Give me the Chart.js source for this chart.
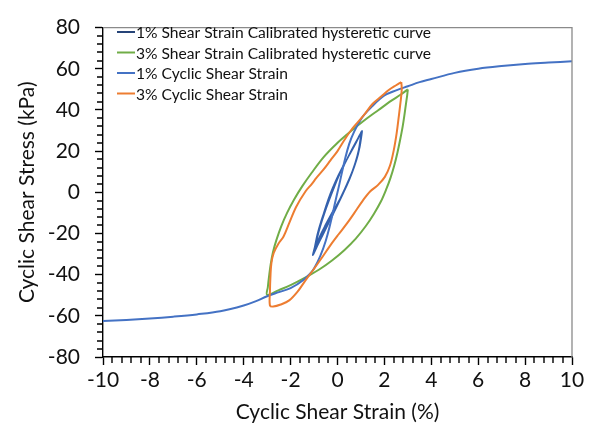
<!DOCTYPE html>
<html>
<head>
<meta charset="utf-8">
<script src="https://cdn.jsdelivr.net/npm/chart.js@4.4.1/dist/chart.umd.min.js"></script>
<style>
  html, body { margin: 0; padding: 0; background: #fff; }
  #wrap { width: 594px; height: 432px; }
</style>
</head>
<body>
<div id="wrap"><canvas id="c" width="594" height="432"></canvas></div>
<script>
// Series labels (legend order)
const seriesLabels = [
  '1% Shear Strain Calibrated hysteretic curve',
  '3% Shear Strain Calibrated hysteretic curve',
  '1% Cyclic Shear Strain',
  '3% Cyclic Shear Strain'
];

// 1% calibrated hysteretic loops (several cycles)
const loop1Strain = [
  -1.00, -0.92, -0.80, -0.66, -0.50, -0.30, -0.08, 0.18, 0.45, 0.72, 0.96, 1.02,
  1.03, 0.98, 0.88, 0.72, 0.52, 0.28, 0.02, -0.26, -0.52, -0.74, -0.90, -0.96,
  -0.86, -0.72, -0.55, -0.36, -0.14, 0.10, 0.36, 0.62, 0.86, 0.99,
  0.97, 0.90, 0.76, 0.58, 0.36, 0.12, -0.14, -0.40, -0.64, -0.86, -1.05,
  -0.97, -0.86, -0.70, -0.50, -0.28, -0.04, 0.22, 0.50, 0.78, 1.00, 1.05,
  1.02, 0.95, 0.82, 0.64, 0.42, 0.18, -0.08, -0.35, -0.60, -0.82, -1.02
];
const loop1Stress = [
  -29.5, -25.0, -19.0, -13.0, -7.0, -0.5, 5.5, 11.5, 17.0, 22.5, 28.0, 29.5,
  28.0, 24.0, 18.5, 12.5, 6.5, 0.5, -5.0, -10.5, -16.0, -21.0, -25.5, -28.5,
  -22.0, -16.0, -10.0, -4.0, 2.5, 9.0, 15.0, 21.0, 26.0, 28.5,
  25.5, 20.5, 14.5, 8.5, 2.5, -3.5, -9.5, -15.5, -21.0, -26.0, -30.5,
  -26.5, -20.5, -14.0, -7.5, -1.0, 5.5, 12.0, 18.0, 24.0, 29.0, 29.8,
  27.0, 22.0, 16.5, 10.5, 4.5, -1.5, -7.5, -13.5, -19.5, -24.5, -29.0
];

// 3% calibrated hysteretic loop
const loop3Strain = [
  3.00, 2.97, 2.92, 2.86, 2.78, 2.68, 2.56, 2.42, 2.26, 2.08, 1.85, 1.55, 1.20, 0.78, 0.30, -0.22,
  -0.78, -1.38, -1.98, -2.50, -3.00,
  -2.97, -2.92, -2.85, -2.75, -2.60, -2.40, -2.15, -1.85, -1.50, -1.10, -0.60, -0.05, 0.55, 1.15,
  1.75, 2.30, 2.70, 3.00
];
const loop3Stress = [
  50.0, 47.0, 43.0, 38.0, 32.0, 26.0, 19.5, 13.0, 7.0, 1.5, -4.5, -10.5, -16.5, -22.5, -28.0, -33.0,
  -37.5, -41.5, -45.0, -47.5, -49.8,
  -46.0, -41.0, -35.0, -29.0, -23.0, -16.5, -10.0, -3.5, 3.0, 9.5, 17.0, 23.5, 29.5, 35.0,
  40.0, 44.5, 47.5, 50.0
];

// Backbone curve (1% cyclic shear strain)
const backboneStrain = [-10, -9, -8, -7, -6, -5, -4, -3.5, -3, -2.5, -2, -1.5, -1, -0.5, 0,
  0.5, 1, 1.5, 2, 2.5, 3, 3.5, 4, 5, 6, 7, 8, 9, 10];
const backboneStress = [-62.5, -62.0, -61.3, -60.4, -59.3, -57.8, -55.0, -53.0, -50.5, -48.5, -46.5, -43.0, -37.0, -23.5, 0,
  23.5, 35.5, 42.0, 47.0, 49.5, 51.5, 53.5, 55.0, 58.0, 60.0, 61.3, 62.3, 63.0, 63.7];

// 3% cyclic shear strain (measured loop)
const cyc3Strain = [
  2.72, 2.74, 2.69, 2.61, 2.52, 2.40, 2.24, 2.02, 1.72, 1.40, 1.08, 0.72, 0.38, 0.04, -0.32, -0.68,
  -1.02, -1.38, -1.72, -2.06, -2.42, -2.74, -2.88,
  -2.88, -2.86, -2.82, -2.72, -2.52, -2.30, -2.06, -1.76, -1.36, -1.10, -0.90, -0.60, -0.30, 0.00,
  0.30, 0.60, 0.86, 1.16, 1.50, 1.86, 2.20, 2.50, 2.72
];
const cyc3Stress = [
  53.5, 50.0, 44.0, 36.5, 28.5, 20.5, 13.0, 7.5, 3.5, 0.5, -4.0, -10.0, -15.5, -20.5, -26.0, -32.0,
  -37.5, -43.0, -48.5, -52.5, -54.5, -55.5, -55.0,
  -48.0, -41.0, -34.5, -29.5, -25.0, -21.5, -15.0, -7.0, 0.5, 4.0, 7.0, 11.0, 15.5, 20.0,
  25.5, 30.5, 34.0, 38.0, 43.0, 46.5, 49.8, 52.0, 53.5
];

// Axis ticks
const xTicks = [-10, -8, -6, -4, -2, 0, 2, 4, 6, 8, 10];
const yTicks = [-80, -60, -40, -20, 0, 20, 40, 60, 80];

const pts = (xs, ys) => xs.map((x, i) => ({ x: x, y: ys[i] }));

const FONT = 'Lato, "Open Sans", sans-serif';
const colors = ['#3461AD', '#70AD47', '#4472C4', '#ED7D31'];
const legendColors = ['#264478', '#70AD47', '#4472C4', '#ED7D31'];
const widths = [1.6, 2, 2, 2];

const series = [
  pts(loop1Strain, loop1Stress),
  pts(loop3Strain, loop3Stress),
  pts(backboneStrain, backboneStress),
  pts(cyc3Strain, cyc3Stress)
];

// later series drawn on top
const datasets = series.map((d, i) => ({
  label: seriesLabels[i],
  data: d,
  showLine: true,
  borderColor: colors[i],
  backgroundColor: colors[i],
  borderWidth: widths[i],
  pointRadius: 0,
  tension: 0.35,
  fill: false,
  order: 4 - i
}));

const framePlugin = {
  id: 'frame',
  afterDraw(chart) {
    const ctx = chart.ctx;
    const a = chart.chartArea;
    const xs = chart.scales.x, ys = chart.scales.y;
    ctx.save();
    // grey top/right plot border
    ctx.strokeStyle = '#8a8a8a';
    ctx.lineWidth = 1.3;
    ctx.beginPath();
    ctx.moveTo(a.left, a.top);
    ctx.lineTo(a.right, a.top);
    ctx.lineTo(a.right, a.bottom);
    ctx.stroke();

    // minor ticks (x every 0.4 %, y every 4 kPa)
    ctx.strokeStyle = '#000';
    ctx.lineWidth = 1.4;
    ctx.beginPath();
    for (let k = 0; k <= 50; k++) {
      if (k % 5 === 0) continue;
      const px = Math.round(xs.getPixelForValue(-10 + k * 0.4));
      ctx.moveTo(px, a.bottom);
      ctx.lineTo(px, a.bottom + 6);
    }
    for (let k = 0; k <= 40; k++) {
      if (k % 5 === 0) continue;
      const py = Math.round(ys.getPixelForValue(-80 + k * 4));
      ctx.moveTo(a.left - 6, py);
      ctx.lineTo(a.left, py);
    }
    ctx.stroke();

    // legend inside the plot
    ctx.font = '15.6px ' + FONT;
    ctx.textBaseline = 'middle';
    ctx.textAlign = 'left';
    const rowY = [32, 52.5, 73, 93.5];
    chart.data.datasets.forEach((ds, i) => {
      const y = rowY[i];
      ctx.strokeStyle = legendColors[i];
      ctx.lineWidth = 2;
      ctx.beginPath();
      ctx.moveTo(117, y);
      ctx.lineTo(135, y);
      ctx.stroke();
      ctx.fillStyle = '#111';
      ctx.fillText(ds.label, 136, y + 1);
    });
    ctx.restore();
  }
};

new Chart(document.getElementById('c'), {
  type: 'scatter',
  data: { datasets: datasets },
  options: {
    responsive: false,
    animation: false,
    layout: { padding: { left: 0, right: 22, top: 20, bottom: 0 } },
    plugins: { legend: { display: false }, tooltip: { enabled: false } },
    scales: {
      x: {
        type: 'linear',
        min: -10, max: 10,
        afterBuildTicks: s => { s.ticks = xTicks.map(v => ({ value: v })); },
        afterFit: s => { s.height = 75; },
        ticks: { font: { family: FONT, size: 21 }, color: '#111', padding: 3, maxRotation: 0 },
        grid: { drawOnChartArea: false, drawTicks: true, tickLength: 8, tickColor: '#000', tickWidth: 1.4 },
        border: { color: '#000', width: 1.4 },
        title: { display: true, text: 'Cyclic Shear Strain (%)', font: { family: FONT, size: 21 }, color: '#111', padding: { top: 0, bottom: 7 } }
      },
      y: {
        type: 'linear',
        min: -80, max: 80,
        afterBuildTicks: s => { s.ticks = yTicks.map(v => ({ value: v })); },
        afterFit: s => { s.width = 103; },
        ticks: { font: { family: FONT, size: 21 }, color: '#111', padding: 15 },
        grid: { drawOnChartArea: false, drawTicks: true, tickLength: 8, tickColor: '#000', tickWidth: 1.4 },
        border: { color: '#000', width: 1.4 },
        title: { display: true, text: 'Cyclic Shear Stress (kPa)', font: { family: FONT, size: 21 }, color: '#111', padding: { top: 15, bottom: 0 } }
      }
    }
  },
  plugins: [framePlugin]
});
</script>
</body>
</html>
